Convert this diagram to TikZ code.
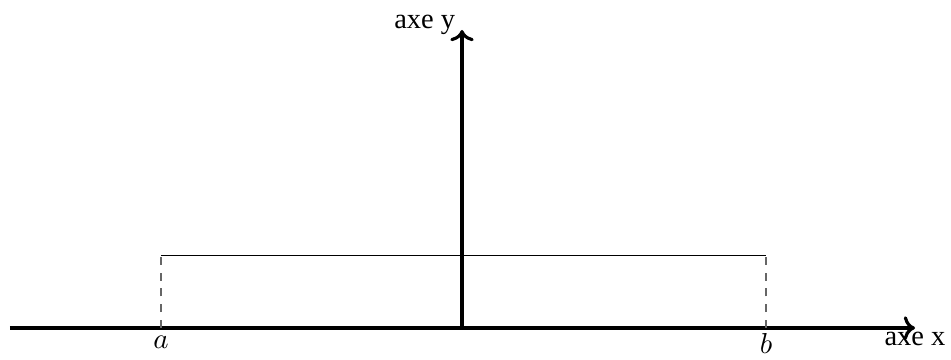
\documentclass[tikz,border=0pt]{standalone}
\usepackage{fontspec}
\setmainfont{Liberation Serif}
\usetikzlibrary{arrows.meta,positioning,calc}

\begin{document}
\begin{tikzpicture}[
    >=To,
    every node/.style={font=\fontsize{10.8}{13}\selectfont},
    axis/.style={->, line width=1.2pt},
    level/.style={line width=0.4pt},
    dline/.style={dashed, gray!80!black, line width=0.5pt}
]
    \useasboundingbox (0,0) rectangle (12.68,4.8);
    % axes
    \coordinate (xl) at (0.13,0.427);
    \coordinate (xr) at (12.2,0.427);
    \coordinate (yb) at (6.16,0.427);
    \coordinate (yt) at (6.16,4.4);
    \draw[axis] (xl) -- (xr) node[below, inner sep=1pt] (xlab) {axe x};
    \draw[axis] (yb) -- (yt) node[left, yshift=2pt, inner sep=2pt] (ylab) {axe y};
    % interval
    \coordinate (a) at (2.147,0.427);
    \coordinate (b) at (10.213,0.427);
    \coordinate (ta) at (2.147,1.387);
    \coordinate (tb) at (10.213,1.387);
    \draw[level] (ta) -- (tb);
    \draw[dline] (a) -- (ta);
    \draw[dline] (b) -- (tb);
    \node[below=0.8pt of a, inner sep=2pt] (alab) {$a$};
    \node[below=0pt of b, inner sep=1.8pt] (blab) {$b$};
\end{tikzpicture}
\end{document}
